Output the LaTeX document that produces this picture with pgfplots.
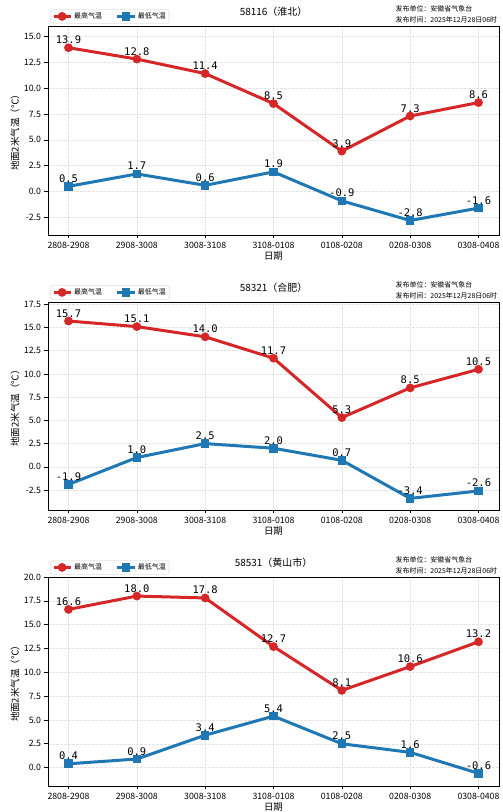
\documentclass[border=0pt]{standalone}
\usepackage{fontspec}
\setmainfont{Noto Sans CJK SC}
\newfontfamily\monofont{DejaVu Sans Mono}
\usepackage{pgfplots}
\pgfplotsset{compat=1.18}

\definecolor{tred}{HTML}{D62728}
\definecolor{tblue}{HTML}{1F77B4}

\pgfplotsset{
  wx/.style={
    width=451bp, height=209bp, scale only axis,
    anchor=south west, clip=false,
    xmin=-0.3, xmax=6.3,
    xtick={0,...,6},
    xticklabels={2808-2908,2908-3008,3008-3108,3108-0108,0108-0208,0208-0308,0308-0408},
    ytick distance=2.5,
    tick align=outside, major tick length=3.5bp, tick pos=left,
    tick style={black, line width=0.6bp},
    grid=major,
    grid style={gray!22, line width=0.5bp, dash pattern=on 3bp off 1bp},
    axis line style={line width=0.8bp},
    ticklabel style={font=\fontsize{8.8}{9}\selectfont},
    /pgf/number format/assume math mode=true,
    yticklabel style={/pgf/number format/.cd, fixed, fixed zerofill, precision=1},
    xlabel={日期}, ylabel={地面2米气温（℃）},
    label style={font=\fontsize{9.5}{10}\selectfont},
    xlabel style={at={(axis description cs:0.5,-0.1)}, anchor=center},
    ylabel style={at={(axis description cs:-0.073,0.5)}, anchor=center},
    title style={at={(axis description cs:0.5,1.038)}, anchor=center,
      font=\fontsize{10}{11}\selectfont},
    legend columns=2,
    legend style={at={(axis description cs:0.006,1.012)}, anchor=south west,
      font=\fontsize{7}{7.5}\selectfont, draw=gray!40, rounded corners=1.5bp,
      inner sep=1.2bp, /tikz/every even column/.append style={column sep=12bp}},
    nodes near coords,
    nodes near coords style={font=\monofont\fontsize{10.5}{10.5}\selectfont,
      text=black, anchor=base, yshift=4bp,
      /pgf/number format/.cd, fixed, fixed zerofill, precision=1},
  },
  hi/.style={color=tred, line width=3bp, mark=*, mark size=2.8bp,
    mark options={solid, fill=tred}},
  lo/.style={color=tblue, line width=3bp, mark=square*, mark size=2.8bp,
    mark options={solid, fill=tblue}},
}

\newcommand{\pubinfo}{%
  \node[anchor=west, font=\fontsize{7}{8}\selectfont] at (rel axis cs:0.763,1.081) {发布单位：安徽省气象台};
  \node[anchor=west, font=\fontsize{7}{8}\selectfont] at (rel axis cs:0.763,1.029) {发布时间：2025年12月28日06时};
}

\begin{document}
\begin{tikzpicture}
\useasboundingbox (0,0) rectangle (503bp,812bp);

% 58116 淮北
\begin{axis}[wx, at={(48bp,577bp)}, ymin=-4.2, ymax=16.0, title={58116（淮北）}]
  \addplot[hi] coordinates {(0,13.9) (1,12.8) (2,11.4) (3,8.5) (4,3.9) (5,7.3) (6,8.6)};
  \addlegendentry{最高气温}
  \addplot[lo] coordinates {(0,0.5) (1,1.7) (2,0.6) (3,1.9) (4,-0.9) (5,-2.8) (6,-1.6)};
  \addlegendentry{最低气温}
  \pubinfo
\end{axis}

% 58321 合肥
\begin{axis}[wx, at={(48bp,302bp)}, height=208bp, ymin=-4.65, ymax=17.75, title={58321（合肥）}]
  \addplot[hi] coordinates {(0,15.7) (1,15.1) (2,14.0) (3,11.7) (4,5.3) (5,8.5) (6,10.5)};
  \addlegendentry{最高气温}
  \addplot[lo] coordinates {(0,-1.9) (1,1.0) (2,2.5) (3,2.0) (4,0.7) (5,-3.4) (6,-2.6)};
  \addlegendentry{最低气温}
  \pubinfo
\end{axis}

% 58531 黄山市
\begin{axis}[wx, at={(48bp,26bp)}, ymin=-1.93, ymax=20.0, title={58531（黄山市）}]
  \addplot[hi] coordinates {(0,16.6) (1,18.0) (2,17.8) (3,12.7) (4,8.1) (5,10.6) (6,13.2)};
  \addlegendentry{最高气温}
  \addplot[lo] coordinates {(0,0.4) (1,0.9) (2,3.4) (3,5.4) (4,2.5) (5,1.6) (6,-0.6)};
  \addlegendentry{最低气温}
  \pubinfo
\end{axis}
\end{tikzpicture}
\end{document}
